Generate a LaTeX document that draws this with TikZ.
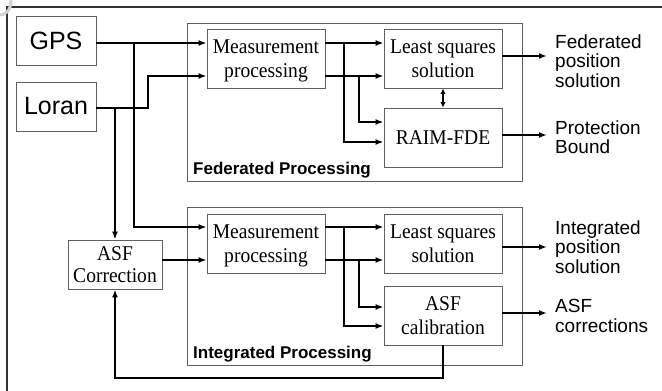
\documentclass[tikz,border=0pt]{standalone}
\usepackage{fontspec}
\setmainfont{Liberation Serif}[FakeStretch=0.93]
\setsansfont{Liberation Sans}
\usetikzlibrary{arrows.meta,calc}

\tikzset{
  blk/.style={draw=gray!75!black, line width=0.9pt, fill=white, inner sep=0pt,
    minimum width=118pt, minimum height=59pt, align=center,
    font=\rmfamily\fontsize{21}{23.5}\selectfont},
  srcblk/.style={draw=gray!75!black, line width=0.9pt, inner sep=0pt,
    minimum width=80pt, minimum height=49pt,
    font=\sffamily\fontsize{25}{28}\selectfont},
  group/.style={draw=gray!75!black, line width=0.9pt},
  grouplabel/.style={anchor=base west, inner sep=0pt,
    font=\sffamily\bfseries\fontsize{17}{19}\selectfont},
  outlabel/.style={anchor=west, inner sep=0pt, align=left,
    font=\sffamily\fontsize{19}{19.5}\selectfont},
  flow/.style={line width=1.8pt, -{Latex[length=8pt,width=6pt]}},
  twoway/.style={line width=1.6pt, {Latex[length=5.5pt,width=5.5pt]}-{Latex[length=5.5pt,width=5.5pt]}},
}

\begin{document}
\begin{tikzpicture}[x=1pt,y=-1pt]
\useasboundingbox (0,0) rectangle (662,391);
\fill[white] (0,0) rectangle (662,391);

% page frame and corner mark
\draw[line width=1.4pt, black!80] (7,391) -- (7,7) -- (662,7);
\draw[line width=3pt, gray!35] (11,0) .. controls (11,10) and (6,15) .. (0,15);

% processing groups
\draw[group] (187,23) rectangle (522,181);
\draw[group] (187,207) rectangle (522,365);
\node[grouplabel] (fedlabel) at (193,174) {Federated Processing};
\node[grouplabel] (intlabel) at (193,358) {Integrated Processing};

% sources
\node[srcblk] (gps) at (56,40.5) {GPS};
\node[srcblk] (loran) at (56,106.5) {Loran};
\node[blk, minimum width=94pt, minimum height=49pt, font=\rmfamily\fontsize{21}{22.5}\selectfont] (asfc) at (115,264.5) {ASF\\Correction};

% federated blocks (descenders of the last line kept out of the centring)
\node[blk] (meas1) at (266,58.5) {Measurement\\\smash{processing}};
\node[blk] (ls1) at (443,58.5) {Least squares\\solution};
\node[blk] (raim) at (443,137.5) {RAIM-FDE};

% integrated blocks
\node[blk] (meas2) at (266,243.5) {Measurement\\\smash{processing}};
\node[blk] (ls2) at (443,243.5) {Least squares\\solution};
\node[blk] (cal) at (443,315.5) {ASF\\calibration};

% rails
\coordinate (yA) at (0,43);
\coordinate (yB) at (0,76);
\coordinate (yC) at (0,122);
\coordinate (yD) at (0,142);
\coordinate (yE) at (0,227);
\coordinate (yF) at (0,260);
\coordinate (yG) at (0,307);
\coordinate (yH) at (0,326);
\coordinate (lorOut) at (0,108);
\coordinate (fb) at (0,378);

% sources to measurement processing
\draw[flow] (gps.east |- yA) -- (meas1.west |- yA);
\draw[flow] (134,43) -- (134,227) -- (meas2.west |- yE);
\draw[flow] (loran.east |- lorOut) -- (148,108) -- (148,76) -- (meas1.west |- yB);
\draw[flow] (asfc.north |- lorOut) -- (asfc.north);
\draw[flow] (asfc.east |- yF) -- (meas2.west |- yF);

% federated fan-out
\draw[flow] (meas1.east |- yA) -- (ls1.west |- yA);
\draw[flow] (meas1.east |- yB) -- (ls1.west |- yB);
\draw[flow] (344,43) -- (344,142) -- (raim.west |- yD);
\draw[flow] (359,76) -- (359,122) -- (raim.west |- yC);
\draw[twoway] (ls1.south) -- (raim.north);

% integrated fan-out
\draw[flow] (meas2.east |- yE) -- (ls2.west |- yE);
\draw[flow] (meas2.east |- yF) -- (ls2.west |- yF);
\draw[flow] (344,227) -- (344,326) -- (cal.west |- yH);
\draw[flow] (359,260) -- (359,307) -- (cal.west |- yG);

% calibration feedback
\draw[flow] (cal.south) -- (cal.south |- fb) -- (asfc.south |- fb) -- (asfc.south);

% outputs
\coordinate (o1) at (547,56);
\coordinate (o2) at (547,135);
\coordinate (o3) at (547,247);
\coordinate (o4) at (547,313);
\draw[flow] (ls1.east |- o1) -- (o1);
\draw[flow] (raim.east |- o2) -- (o2);
\draw[flow] (ls2.east |- o3) -- (o3);
\draw[flow] (cal.east |- o4) -- (o4);
\node[outlabel] (t1) at (555,61) {Federated\\position\\solution};
\node[outlabel] (t2) at (555,137) {Protection\\Bound};
\node[outlabel] (t3) at (555,247) {Integrated\\position\\solution};
\node[outlabel] (t4) at (555,316) {ASF\\corrections};
\end{tikzpicture}
\end{document}
